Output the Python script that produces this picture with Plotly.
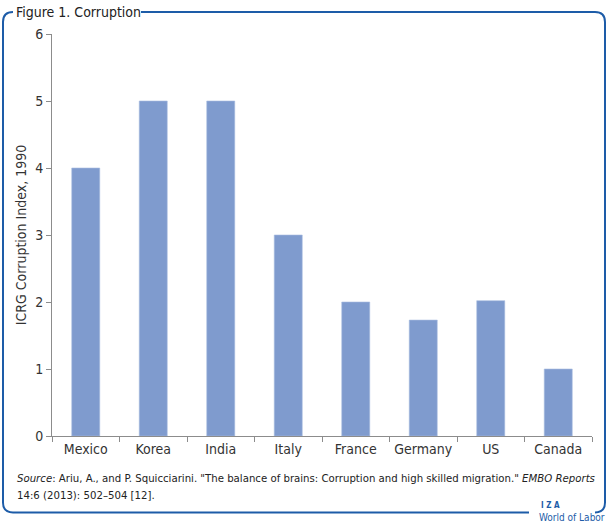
import plotly.graph_objects as go

countries = ["Mexico", "Korea", "India", "Italy", "France", "Germany", "US", "Canada"]
corruption_1990 = [4.0, 5.0, 5.0, 3.0, 2.0, 1.73, 2.02, 1.0]
y_ticks = [0, 1, 2, 3, 4, 5, 6]

W, H = 608, 526
L, R, T, B = 52, 16, 34, 89.5
PW, PH = W - L - R, H - T - B

def px(x):
    return (x - L) / PW

def py(y):
    return (H - B - y) / PH

FONT = "DejaVu Sans Condensed, Liberation Sans Narrow, sans-serif"
BLUE = "#1d5ca8"

fig = go.Figure(go.Bar(
    x=countries, y=corruption_1990,
    marker=dict(color="#7f9bce", line=dict(color="#a9bde0", width=0.6)),
    width=0.415,
))

def P(pts):
    s = ""
    for cmd, coords in pts:
        s += cmd + " " + " ".join(f"{px(a):.5f},{py(b):.5f}" for a, b in coords) + " "
    return s.strip()

path1 = P([("M", [(13, 12)]), ("Q", [(3, 12), (3, 22)]), ("L", [(3, 503)]),
           ("Q", [(3, 513), (13, 513)]), ("L", [(529, 513)])])
path2 = P([("M", [(595, 513)]), ("Q", [(605, 513), (605, 503)]), ("L", [(605, 22)]),
           ("Q", [(605, 12), (595, 12)]), ("L", [(141, 12)])])

shapes = [dict(type="path", path=p, xref="paper", yref="paper",
               line=dict(color=BLUE, width=2)) for p in (path1, path2)]

src_font = dict(family=FONT, size=11.3, color="#222222")
annotations = [
    dict(text="Figure 1. Corruption", x=px(14), y=py(12), xref="paper", yref="paper",
         xanchor="left", yanchor="middle", showarrow=False,
         font=dict(family=FONT, size=14, color="#222222")),
    dict(text="<i>Source</i>: Ariu, A., and P. Squicciarini. \"The balance of brains: Corruption and high skilled migration.\" <i>EMBO Reports</i>",
         x=px(15), y=py(479), xref="paper", yref="paper", xanchor="left", yanchor="middle",
         align="left", showarrow=False, font=src_font),
    dict(text="14:6 (2013): 502\u2013504 [12].",
         x=px(15), y=py(496), xref="paper", yref="paper", xanchor="left", yanchor="middle",
         align="left", showarrow=False, font=src_font),
    dict(text="<b>I Z A</b>", x=px(539), y=py(506), xref="paper", yref="paper",
         xanchor="left", yanchor="middle", showarrow=False,
         font=dict(family=FONT, size=8, color=BLUE)),
    dict(text="World of Labor", x=px(537), y=py(518), xref="paper", yref="paper",
         xanchor="left", yanchor="middle", showarrow=False,
         font=dict(family=FONT, size=10, color=BLUE)),
]

fig.update_layout(
    width=W, height=H,
    margin=dict(l=L, r=R, t=T, b=B, pad=0, autoexpand=False),
    paper_bgcolor="white", plot_bgcolor="white",
    showlegend=False,
    font=dict(family=FONT, size=14, color="#333333"),
    shapes=shapes, annotations=annotations,
    xaxis=dict(type="category", range=[-0.5, 7.5], showline=True, linecolor="#8c8c8c",
               linewidth=1, ticks="outside", tickson="boundaries", ticklen=5,
               tickcolor="#8c8c8c", showgrid=False, tickangle=0, automargin=False,
               tickfont=dict(size=14, family=FONT)),
    yaxis=dict(range=[0, 6], tickvals=y_ticks, showline=True, linecolor="#8c8c8c",
               linewidth=1, ticks="outside", ticklen=5, tickcolor="#8c8c8c",
               showgrid=False, zeroline=False, automargin=False,
               tickfont=dict(size=14, family=FONT),
               title=dict(text="ICRG Corruption Index, 1990", standoff=5,
                          font=dict(size=14, family=FONT))),
    bargap=0.585,
)

fig.write_html("out.html", config={"displayModeBar": False},
               post_script="document.body.style.margin='0';document.body.style.overflow='hidden';")
